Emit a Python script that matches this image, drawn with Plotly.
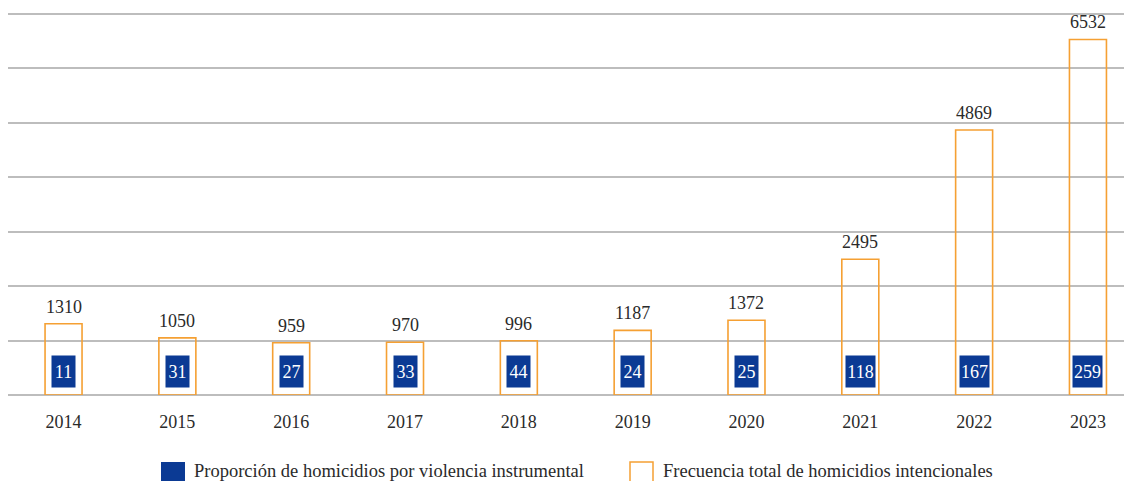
import plotly.graph_objects as go

# ---------------- data ----------------
years = [2014, 2015, 2016, 2017, 2018, 2019, 2020, 2021, 2022, 2023]
total_homicides = [1310, 1050, 959, 970, 996, 1187, 1372, 2495, 4869, 6532]
instrumental = [11, 31, 27, 33, 44, 24, 25, 118, 167, 259]
name_instrumental = "Proporción de homicidios por violencia instrumental"
name_total = "Frecuencia total de homicidios intencionales"

# ---------------- style ----------------
OFF = 8                      # page body margin
W, H = 1132 - OFF, 481 - OFF
ML, MR, MT, MB = 0, 0, 4, 86
FONT = "Liberation Serif"
TXT = "#2a2a2a"
ORANGE = "#F5A033"
BLUE = "#0B3A94"
GRID = "#BDBDBD"

def px2paper(sx, sy):
    """screen pixel -> paper coords"""
    x, y = sx - OFF, sy - OFF
    pw = W - ML - MR
    ph = H - MT - MB
    return (x - ML) / pw, (H - MB - y) / ph

fig = go.Figure()
fig.add_trace(go.Bar(
    x=years, y=total_homicides, name=name_total,
    marker=dict(color="rgba(255,255,255,0)", line=dict(color=ORANGE, width=1.6)),
    width=0.325, showlegend=False,
))

annotations = []
# value labels on top of orange bars
for yr, v in zip(years, total_homicides):
    annotations.append(dict(
        x=yr, y=v, xref="x", yref="y", text=str(v), showarrow=False,
        yanchor="bottom", yshift=5, font=dict(family=FONT, size=18, color=TXT),
    ))
# blue labelled boxes
for yr, v in zip(years, instrumental):
    s = str(v)
    annotations.append(dict(
        x=yr, y=0, xref="x", yref="y", text=s, showarrow=False,
        yanchor="bottom", yshift=7, bgcolor=BLUE, borderpad=0,
        width=11 + 6 * len(s), height=31,
        font=dict(family=FONT, size=18, color="white"),
    ))

# manual legend
shapes = []
legend_items = [
    (name_instrumental, 161, 185, 192, dict(fillcolor=BLUE, line=dict(width=0))),
    (name_total, 630, 653, 661, dict(fillcolor="rgba(0,0,0,0)", line=dict(color=ORANGE, width=1.5))),
]
for label, sx0, sx1, tx, st in legend_items:
    x0, y0 = px2paper(sx0, 462)
    x1, y1 = px2paper(sx1, 486)
    shapes.append(dict(type="rect", xref="paper", yref="paper", x0=x0, x1=x1, y0=y1, y1=y0, **st))
    ax, ay = px2paper(tx, 471)
    annotations.append(dict(
        x=ax, y=ay, xref="paper", yref="paper", text=label, showarrow=False,
        xanchor="left", yanchor="middle", font=dict(family=FONT, size=18.5, color=TXT),
    ))

fig.update_layout(
    width=W, height=H,
    margin=dict(l=ML, r=MR, t=MT, b=MB),
    paper_bgcolor="white", plot_bgcolor="white",
    showlegend=False,
    font=dict(family=FONT, size=18, color=TXT),
    annotations=annotations,
    shapes=shapes,
    xaxis=dict(
        range=[2013.512, 2023.387], tickmode="array", tickvals=years,
        ticktext=[str(y) for y in years], showgrid=False, zeroline=False,
        showline=False, ticks="outside", ticklen=10, tickcolor="rgba(0,0,0,0)",
        tickfont=dict(family=FONT, size=18, color=TXT),
    ),
    yaxis=dict(
        range=[0, 7036], tickmode="array", tickvals=[0, 1000, 2000, 3000, 4000, 5000, 6000, 7000],
        showticklabels=False, showgrid=True,
        gridcolor=GRID, gridwidth=1.5, zeroline=True, zerolinecolor=GRID,
        zerolinewidth=1.5, showline=False, ticks="",
    ),
)

fig.write_html("out.html")
